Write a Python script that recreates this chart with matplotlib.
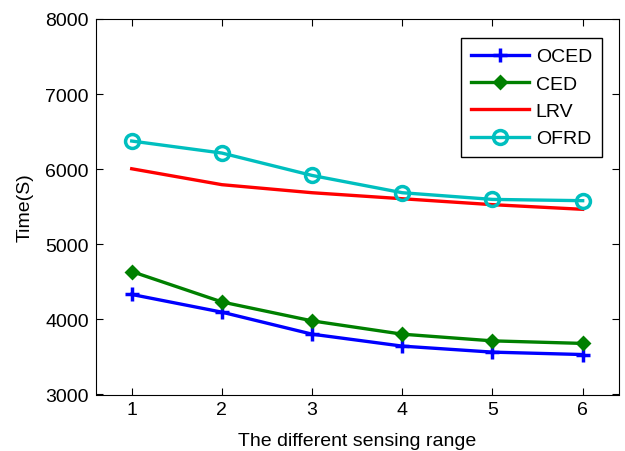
import matplotlib
matplotlib.use("Agg")
import matplotlib.pyplot as plt

plt.rcParams['font.family'] = ['Liberation Sans', 'DejaVu Sans']

x = [1, 2, 3, 4, 5, 6]
oced = [4332, 4096, 3803, 3644, 3564, 3532]
ced = [4637, 4232, 3980, 3803, 3714, 3680]
lrv = [6005, 5793, 5686, 5606, 5527, 5465]
ofrd = [6374, 6214, 5916, 5686, 5597, 5580]

fig = plt.figure(figsize=(6.25, 4.52), dpi=100)
ax = fig.add_axes([0.153, 0.125, 0.837, 0.831])

lw = 2.4
ax.plot(x, oced, color='#0000ff', lw=lw, marker='+', ms=10, mew=2.5, label='OCED')
ax.plot(x, ced, color='#008000', lw=lw, marker='D', ms=6, mew=2, label='CED')
ax.plot(x, lrv, color='#ff0000', lw=lw, label='LRV')
ax.plot(x, ofrd, color='#00bfbf', lw=lw, marker='o', ms=10, mew=2.5,
        markerfacecolor='none', label='OFRD')

ax.set_xlim(0.6, 6.4)
ax.set_ylim(3000, 8000)
ax.set_xticks(x)
ax.set_yticks(range(3000, 8001, 1000))
ax.tick_params(direction='in', top=True, right=True, labelsize=14, length=5, pad=5)
ax.set_xlabel('The different sensing range', fontsize=14, labelpad=10)
ax.set_ylabel('Time(S)', fontsize=14, labelpad=8)

leg = ax.legend(loc='upper right', bbox_to_anchor=(0.9675, 0.949), borderaxespad=0,
                fontsize=14, fancybox=False, edgecolor='black', framealpha=1,
                handlelength=3.0, handletextpad=0.35, borderpad=0.5, labelspacing=0.5)
leg.get_frame().set_linewidth(1.0)

fig.savefig('out.png', dpi=100)
